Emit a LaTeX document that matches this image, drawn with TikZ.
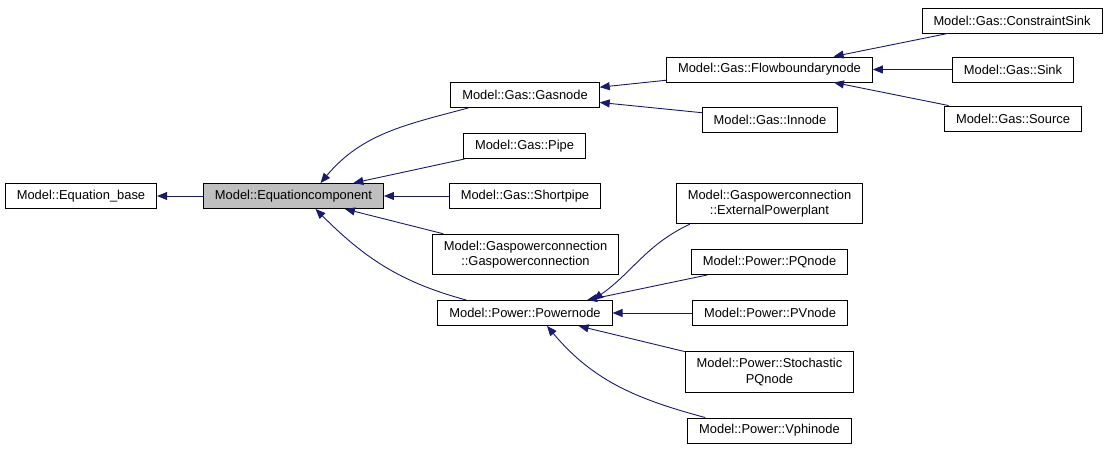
\documentclass[tikz,border=0pt]{standalone}
\usepackage{fontspec}
\setmainfont{Liberation Sans}
\usetikzlibrary{arrows.meta}
\definecolor{edgeblue}{RGB}{25,25,112}
\definecolor{curgray}{RGB}{191,191,191}
\tikzset{
  cls/.style={draw=black, line width=0.9pt, rectangle, align=center,
    minimum height=25pt, inner xsep=11.5pt, inner ysep=6.5pt,
    font=\fontsize{12.9}{15.5}\selectfont},
  inh/.style={draw=edgeblue, line width=0.9pt,
    -{Triangle[length=10pt,width=8pt]}}
}
\begin{document}
\begin{tikzpicture}[x=1pt,y=1pt]
\useasboundingbox (0,0) rectangle (1109,-449);

% Base classes
\node[cls] (base) at (81,-196) {Model::Equation\_base};
\node[cls, fill=curgray] (eqc) at (293.5,-196) {Model::Equationcomponent};

% Direct children
\node[cls] (gasnode) at (525,-95) {Model::Gas::Gasnode};
\node[cls] (pipe) at (524.5,-146) {Model::Gas::Pipe};
\node[cls] (shortpipe) at (525,-196) {Model::Gas::Shortpipe};
\node[cls] (gpc) at (525.5,-254.5) {Model::Gaspowerconnection\\::Gaspowerconnection};
\node[cls] (powernode) at (525,-313) {Model::Power::Powernode};

% Gas nodes
\node[cls] (flowb) at (769.5,-69.5) {Model::Gas::Flowboundarynode};
\node[cls] (innode) at (770,-119.5) {Model::Gas::Innode};
\node[cls] (csink) at (1012,-20.5) {Model::Gas::ConstraintSink};
\node[cls] (sink) at (1013,-69.5) {Model::Gas::Sink};
\node[cls] (source) at (1013,-118.5) {Model::Gas::Source};

% Power nodes
\node[cls] (ext) at (769.5,-203.5) {Model::Gaspowerconnection\\::ExternalPowerplant};
\node[cls] (pq) at (769.5,-262) {Model::Power::PQnode};
\node[cls] (pv) at (770,-313) {Model::Power::PVnode};
\node[cls] (stoch) at (769.5,-372) {Model::Power::Stochastic\\PQnode};
\node[cls] (vphi) at (769.5,-430.5) {Model::Power::Vphinode};

% Inheritance arrows
\draw[inh] (eqc.west) -- (base.east);
\draw[inh] ([xshift=18pt]gasnode.south west) to[out=195,in=50] ([xshift=27pt]eqc.north);
\draw[inh] (pipe) -- (eqc);
\draw[inh] (shortpipe.west) -- (eqc.east);
\draw[inh] (gpc) -- (eqc);
\draw[inh] ([xshift=29pt]powernode.north west) to[out=165,in=-45] ([xshift=22pt]eqc.south);

\draw[inh] (flowb) -- (gasnode);
\draw[inh] (innode) -- (gasnode);
\draw[inh] (csink) -- (flowb);
\draw[inh] (sink.west) -- (flowb.east);
\draw[inh] (source) -- (flowb);

\draw[inh] ([xshift=14pt]ext.south west) to[out=205,in=35] ([xshift=68pt]powernode.north);
\draw[inh] (pq) -- (powernode);
\draw[inh] (pv.west) -- (powernode.east);
\draw[inh] (stoch) -- (powernode);
\draw[inh] ([xshift=18pt]vphi.north west) to[out=165,in=-50] ([xshift=22pt]powernode.south);

\end{tikzpicture}
\end{document}
